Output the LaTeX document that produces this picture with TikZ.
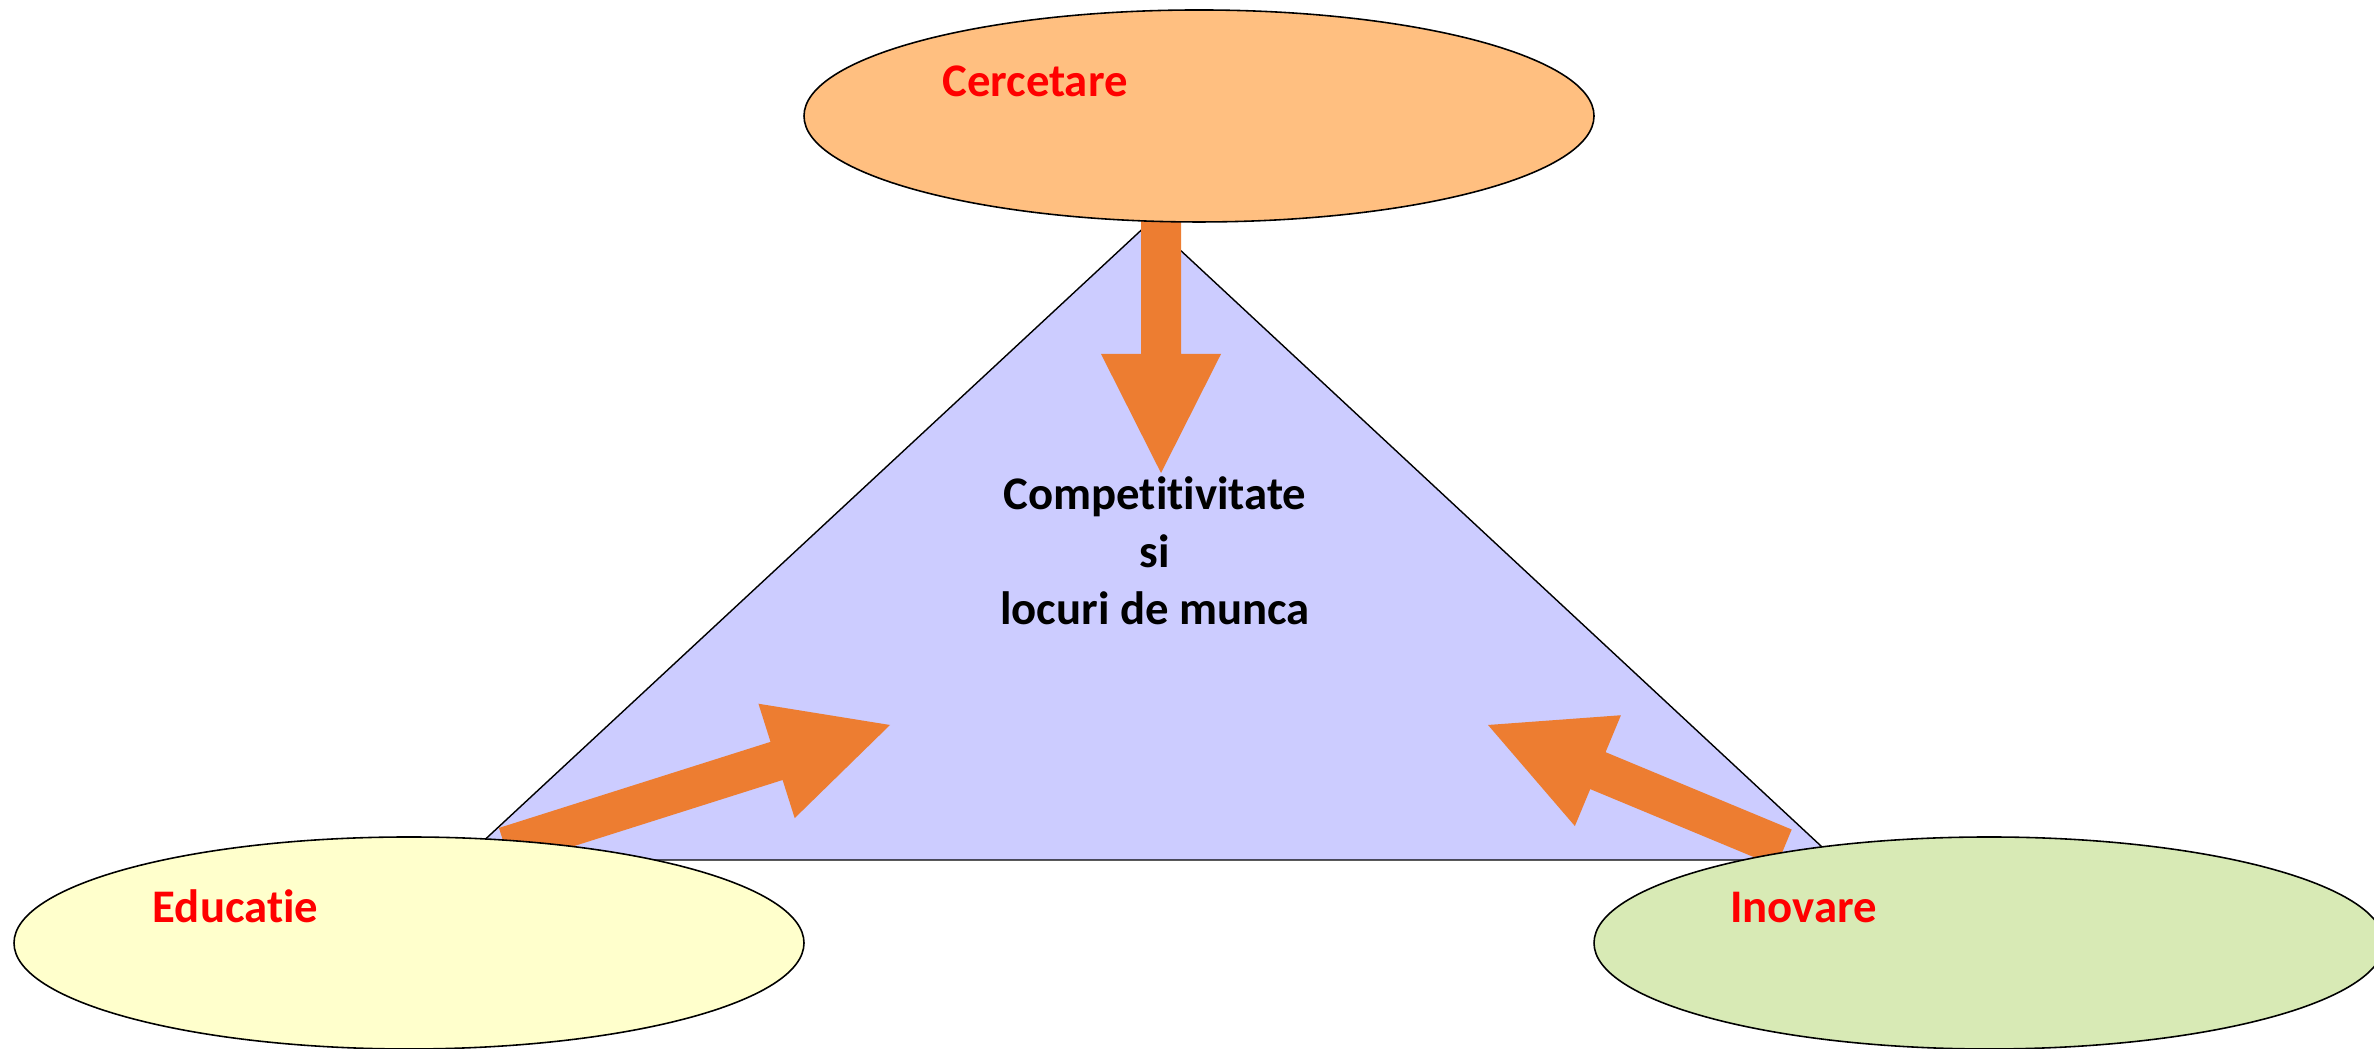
\documentclass[tikz,border=0pt]{standalone}
\usepackage{fontspec}
\setmainfont[Ligatures=NoCommon]{Carlito}
\usetikzlibrary{shapes.geometric,calc}
\definecolor{cercfill}{HTML}{FFBF80}
\definecolor{educfill}{HTML}{FFFFCC}
\definecolor{inovfill}{HTML}{D8EAB5}
\definecolor{trifill}{HTML}{CCCCFF}
\definecolor{arrowfill}{HTML}{ED7D31}
\tikzset{
	field/.style={ellipse, draw=black, line width=0.45pt, minimum width=7.9cm, minimum height=2.12cm, inner sep=0pt},
	fieldlbl/.style={text=red, font=\bfseries\fontsize{13.3}{16}\selectfont, anchor=base, inner sep=0pt},
	goallbl/.style={align=center, font=\bfseries\fontsize{13.3}{16.4}\selectfont, anchor=base, inner sep=0pt},
}
% block arrow from #1 (tail) to #2 (tip)
\newcommand{\blockarrow}[2]{%
	\coordinate (#1h) at ($(#2)!1.19cm!(#1)$);
	\fill[arrowfill] ($(#1)!0.2cm!90:(#2)$) -- ($(#1h)!0.2cm!90:(#2)$) -- ($(#1h)!0.6cm!90:(#2)$) -- (#2)
		-- ($(#1h)!0.6cm!-90:(#2)$) -- ($(#1h)!0.2cm!-90:(#2)$) -- ($(#1)!0.2cm!-90:(#2)$) -- cycle;
}
\begin{document}
\begin{tikzpicture}
	\useasboundingbox (0,0) rectangle (23.74,10.49);
	% triangle
	\coordinate (apex) at (11.50,8.27);
	\coordinate (baseL) at (4.63,1.89);
	\coordinate (baseR) at (18.36,1.89);
	\draw[fill=trifill, line width=0.4pt] (apex) -- (baseR) -- (baseL) -- cycle;
	% arrows
	\coordinate (cercTail) at (11.61,8.34);
	\coordinate (cercTip) at (11.61,5.76);
	\coordinate (educTail) at (5.05,2.02);
	\coordinate (educTip) at (8.90,3.24);
	\coordinate (inovTail) at (17.84,2.01);
	\coordinate (inovTip) at (14.88,3.24);
	\blockarrow{cercTail}{cercTip}
	\blockarrow{educTail}{educTip}
	\blockarrow{inovTail}{inovTip}
	% fields
	\node[field, fill=cercfill] (cerc) at (11.99,9.33) {};
	\node[field, fill=educfill] (educ) at (4.09,1.06) {};
	\node[field, fill=inovfill] (inov) at (19.89,1.06) {};
	\node[fieldlbl] (cercLbl) at (10.35,9.52) {Cercetare};
	\node[fieldlbl] (educLbl) at (2.355,1.26) {Educatie};
	\node[fieldlbl] (inovLbl) at (18.035,1.26) {Inovare};
	\node[goallbl] (goal) at (11.55,4.24) {Competitivitate\\si\\locuri de munca};
\end{tikzpicture}
\end{document}
